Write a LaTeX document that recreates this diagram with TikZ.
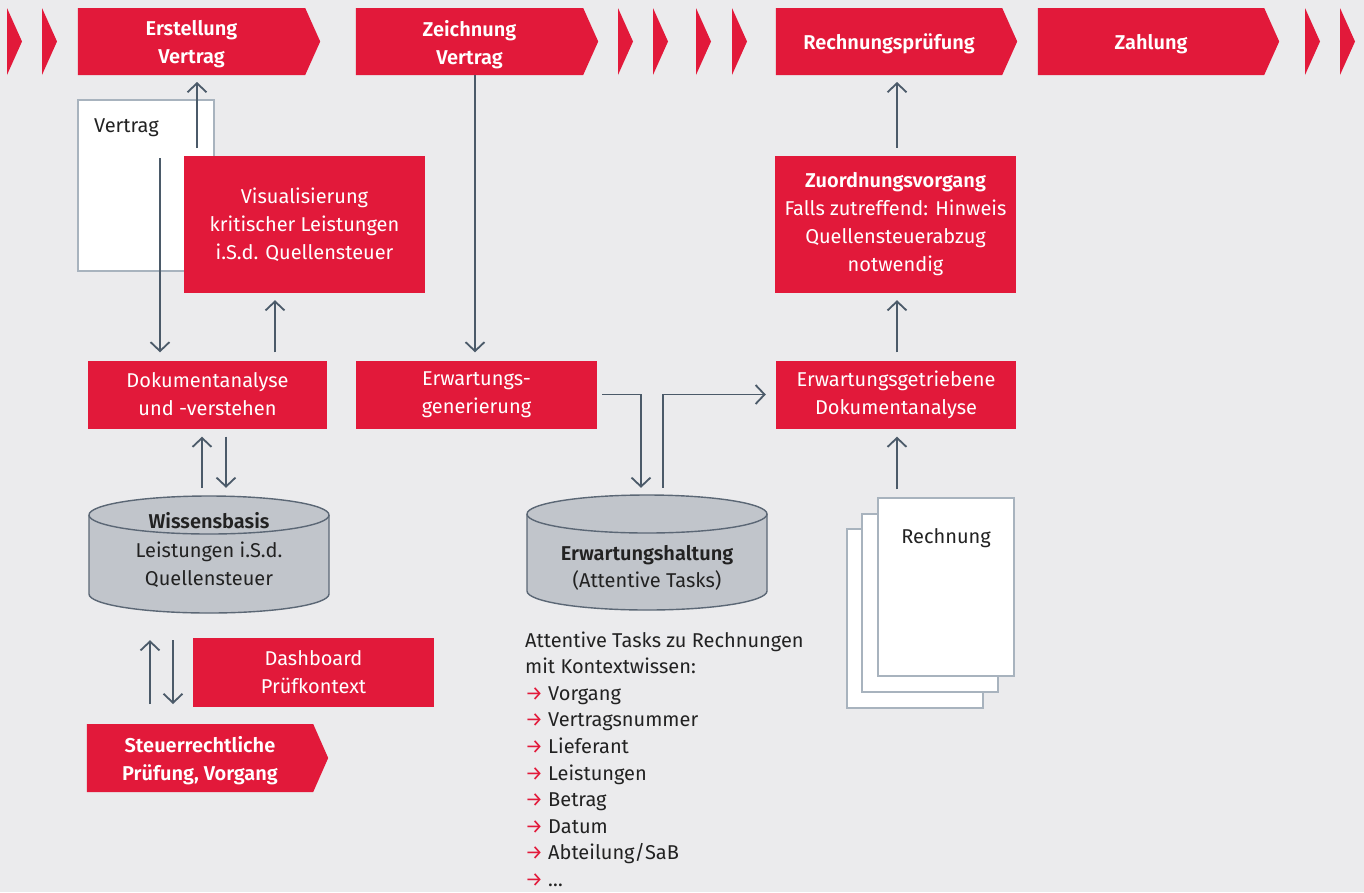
\documentclass[tikz,border=0pt]{standalone}
\usepackage{fontspec}
\setmainfont{Fira Sans}[BoldFont={Fira Sans SemiBold}]
\usetikzlibrary{arrows.meta,calc,backgrounds}
\definecolor{bg}{HTML}{EBEBED}
\definecolor{brand}{HTML}{E2193A}
\definecolor{conn}{HTML}{4B5A69}
\definecolor{dbfill}{HTML}{C1C5CB}
\definecolor{dbline}{HTML}{5B6775}
\definecolor{pageline}{HTML}{A8B3BE}
\definecolor{ink}{HTML}{222222}
\begin{document}
\begin{tikzpicture}[x=1pt,y=-1pt,
  basefont/.style={font=\fontsize{20}{28}\selectfont},
  redbox/.style={fill=brand,text=white,inner sep=0pt,align=center,basefont},
  stage/.style={inner sep=0pt,minimum width=227pt,text=white,align=center,
                font=\bfseries\fontsize{20}{28}\selectfont},
  flow/.style={draw=conn,line width=1.8pt,-{Straight Barb[length=9pt,width=19pt]},shorten >=7pt},
  page/.style={draw=pageline,fill=white,line width=1.2pt,inner sep=0pt,minimum width=136pt},
  db/.style={fill=dbfill,draw=dbline,line width=1.4pt},
  dark/.style={text=ink,inner sep=0pt,basefont},
  area/.style={inner sep=0pt,minimum width=240pt}]

% canvas
\begin{scope}[on background layer]
  \fill[bg] (0,0) rectangle (1364,892);
\end{scope}
\useasboundingbox (0,0) rectangle (1364,892);

% small chevrons of the process band
\foreach \cx in {7,42,618,653,696,732,1305,1340}
  \fill[brand] (\cx,8) -- (\cx+15,41.5) -- (\cx,75) -- cycle;

% process stages (arrow-shaped); the label sits on the node, the outline is drawn behind it
\node[stage] (erst) at (191.5,44.5) {Erstellung\\Vertrag};
\node[stage] (zeich) at (469.5,44.5) {Zeichnung\\Vertrag};
\node[stage,minimum width=226pt] (rp) at (889,44) {Rechnungsprüfung};
\node[stage,minimum width=226pt] (zahl) at (1151,44) {Zahlung};
\node[stage,minimum width=226pt] (steuer) at (200,760.5) {Steuerrechtliche\\Prüfung, Vorgang};
\begin{scope}[on background layer]
  \foreach \n/\t/\b in {erst/8/75,zeich/8/75,rp/8/75,zahl/8/75,steuer/724/792}
    \fill[brand] (\n.west |- 0,\t) -- (\n.east |- 0,\t) -- ($(\n.east |- 0,{(\t+\b)/2})+(15,0)$)
      -- (\n.east |- 0,\b) -- (\n.west |- 0,\b) -- cycle;
\end{scope}
\coordinate (erstbase) at (erst.west |- 0,75);
\coordinate (steuertop) at (steuer.west |- 0,724);

% contract document
\node[page,minimum height=171pt] (vdoc) at (146,185.5) {};
\node[dark,anchor=base west] (vlabel) at (94,132) {Vertrag};
\coordinate (vup) at (197,148);
\coordinate (vdown) at (160,158);

% red process boxes
\node[redbox,minimum width=241pt,minimum height=137pt] (vis) at (304.5,224.5)
  {Visualisierung\\kritischer Leistungen\\i.S.d. Quellensteuer};
\node[redbox,minimum width=239pt,minimum height=68pt] (dok) at (207.5,394.5)
  {Dokumentanalyse\\und -verstehen};
\node[redbox,minimum width=241pt,minimum height=68pt] (erw) at (476.5,394.5)
  {Erwartungs-\\generierung};
\node[redbox,minimum width=240pt,minimum height=68pt] (erwdok) at (896,394.5)
  {Erwartungsgetriebene\\Dokumentanalyse};
\node[redbox,minimum width=241pt,minimum height=137pt] (zuord) at (895.5,224.5)
  {\textbf{Zuordnungsvorgang}\\Falls zutreffend: Hinweis\\Quellensteuerabzug\\notwendig};
\node[redbox,minimum width=241pt,minimum height=69pt] (dash) at (313.5,672.5)
  {Dashboard\\Prüfkontext};

% databases
\node[area,minimum height=117pt] (wb) at (209,554.5) {};
\node[area,minimum height=115pt] (eh) at (647,552.5) {};
\filldraw[db] (89,515) -- (89,594) arc[start angle=180,end angle=360,x radius=120pt,y radius=19pt]
  -- (329,515) arc[start angle=0,end angle=180,x radius=120pt,y radius=19pt] -- cycle;
\draw[db,fill=none] (89,515) arc[start angle=180,end angle=360,x radius=120pt,y radius=19pt];
\filldraw[db] (527,514) -- (527,591) arc[start angle=180,end angle=360,x radius=120pt,y radius=19pt]
  -- (767,514) arc[start angle=0,end angle=180,x radius=120pt,y radius=19pt] -- cycle;
\draw[db,fill=none] (527,514) arc[start angle=180,end angle=360,x radius=120pt,y radius=19pt];
\node[dark,anchor=base,font=\bfseries\fontsize{20}{28}\selectfont] (wbt1) at (209,528) {Wissensbasis};
\node[dark,anchor=base] (wbt2) at (209,557) {Leistungen i.S.d.};
\node[dark,anchor=base] (wbt3) at (209,585) {Quellensteuer};
\node[dark,anchor=base,font=\bfseries\fontsize{20}{28}\selectfont] (eht1) at (647,560) {Erwartungshaltung};
\node[dark,anchor=base] (eht2) at (647,587) {(Attentive Tasks)};

% invoices
\node[page,minimum height=179pt] (rback) at (915,618.5) {};
\node[page,minimum height=178pt] (rmid) at (930,603) {};
\node[page,minimum height=178pt] (rfront) at (946,587) {};
\node[dark,anchor=base] (rlabel) at (946,543) {Rechnung};

% connectors
\draw[flow] (vup) -- (vup |- erstbase);
\draw[flow,shorten >=8pt] (vdown) -- (vdown |- dok.north);
\draw[flow,shorten <=8pt] ($(dok.north)+(67.5,0)$) -- ($(vis.south)+(-29.5,0)$);
\draw[flow,shorten >=8pt] ($(zeich.south |- erstbase)+(5.5,0)$) -- ($(erw.north)+(-1.5,0)$);
\draw[flow,shorten <=8pt] ($(zuord.north)+(1.5,0)$) -- ($(rp.south |- erstbase)+(8,0)$);
\draw[flow,shorten <=8pt] ($(erwdok.north)+(1,0)$) -- ($(zuord.south)+(1.5,0)$);
\draw[flow,shorten <=8pt,shorten >=8pt] ($(erwdok.south |- rfront.north)+(1,0)$) -- ($(erwdok.south)+(1,0)$);
\draw[flow] ($(erw.east)+(5,0)$) -| ($(eh.north)+(-6,0)$);
\draw[flow,shorten <=7pt,shorten >=10pt] ($(eh.north)+(16,0)$) |- (erwdok.west);
\draw[flow,shorten <=8pt,shorten >=8pt] ($(dok.south |- wb.north)+(-5.5,0)$) -- ($(dok.south)+(-5.5,0)$);
\draw[flow,shorten <=8pt,shorten >=8pt] ($(dok.south)+(18.5,0)$) -- ($(dok.south |- wb.north)+(18.5,0)$);
\draw[flow,shorten <=20pt,shorten >=27pt] ($(steuer.north |- steuertop)+(-50,0)$) -- ($(steuer.north |- wb.south)+(-50,0)$);
\draw[flow,shorten <=27pt,shorten >=20pt] ($(steuer.north |- wb.south)+(-27,0)$) -- ($(steuer.north |- steuertop)+(-27,0)$);

% list of attentive tasks
\node[dark,anchor=base west] (l0) at (525,647) {Attentive Tasks zu Rechnungen};
\node[dark,anchor=base west] (l1) at (525,673.6) {mit Kontextwissen:};
\foreach \t [count=\i] in {Vorgang,Vertragsnummer,Lieferant,Leistungen,Betrag,Datum,Abteilung/SaB,\dots}
  \node[dark,anchor=base west] (li\i) at (525,673.6+26.6*\i) {\textcolor{brand}{→}\hspace{0.25em}\t};
\end{tikzpicture}
\end{document}
